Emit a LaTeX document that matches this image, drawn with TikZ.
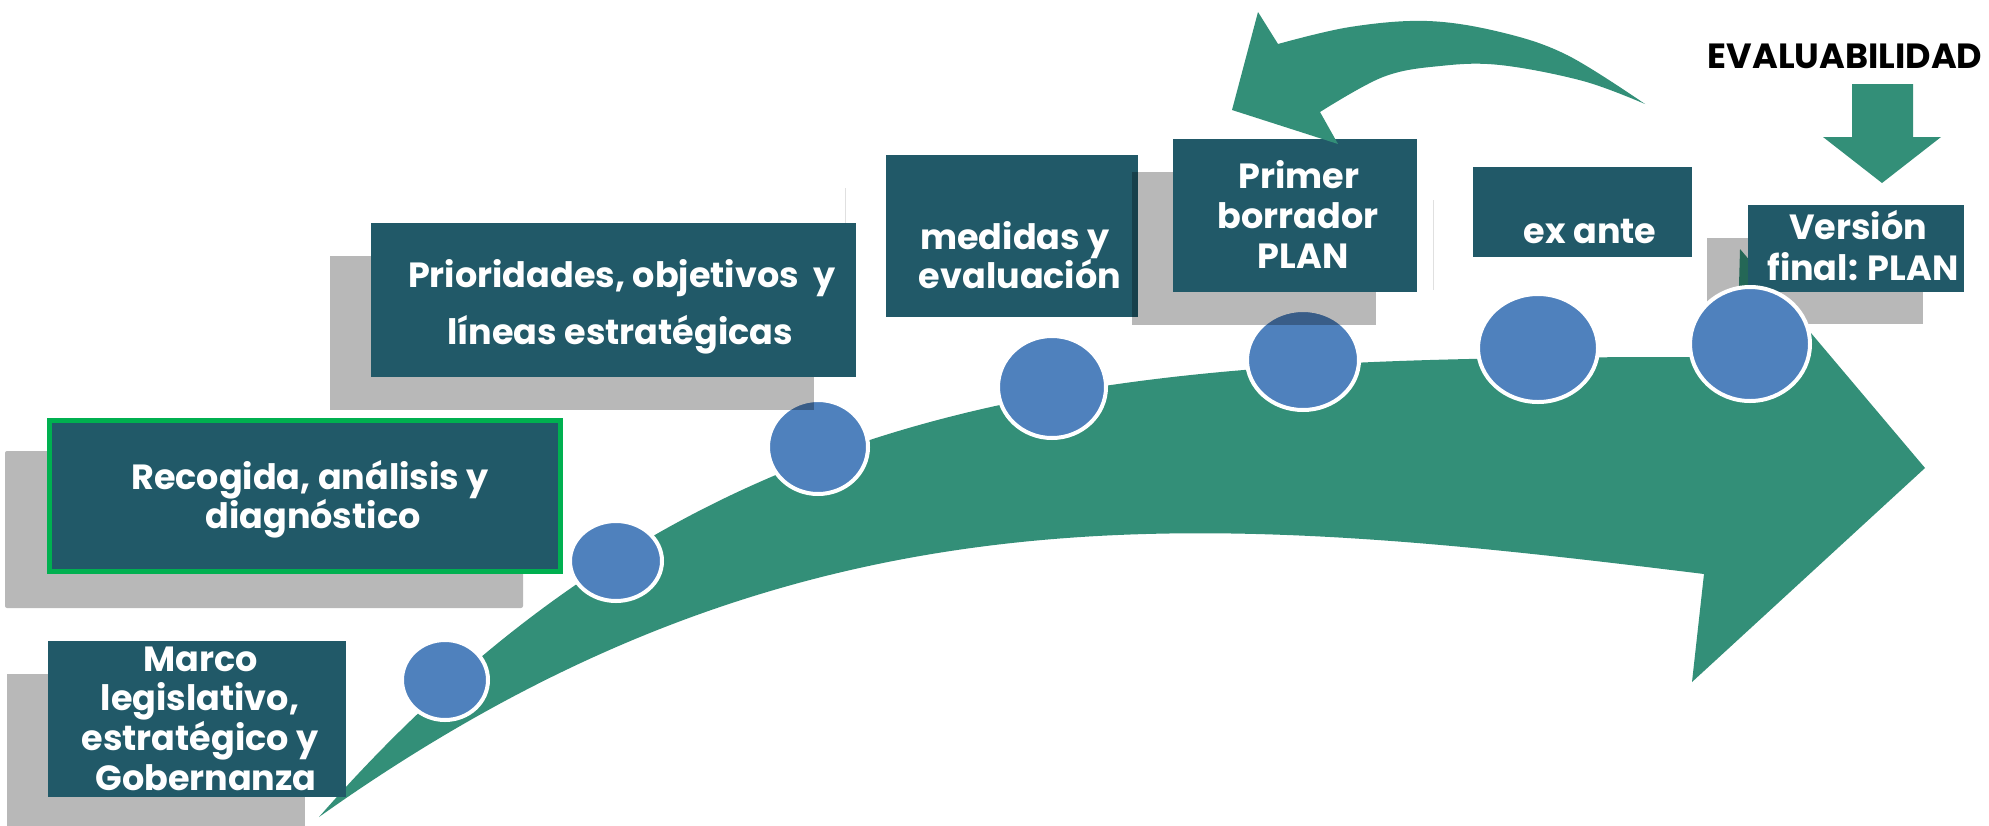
\documentclass[tikz,border=0pt]{standalone}
\usepackage{fontspec}
\setmainfont{Poppins}
\usetikzlibrary{shapes.geometric}
\definecolor{boxfill}{RGB}{33,89,104}
\definecolor{agreen}{RGB}{51,143,120}
\definecolor{cblue}{RGB}{79,129,189}
\definecolor{brdgreen}{RGB}{0,176,80}
\tikzset{
  box/.style={fill=boxfill, draw=none, inner sep=0, anchor=north west, rectangle},
  shadowbox/.style={fill=black, fill opacity=0.28, draw=none},
  circ/.style={ellipse, fill=cblue, draw=white, line width=4pt, inner sep=0},
  txt/.style={text=white, inner sep=0, anchor=base, font=\fontsize{35}{40}\selectfont\bfseries},
  faint/.style={draw=black!12, line width=1pt},
}
\begin{document}
\begin{tikzpicture}[x=1pt,y=-1pt]
\path[use as bounding box, fill=white] (0,0) rectangle (1989,825);

% big arrow
\coordinate (tail) at (319,817);
\coordinate (hu) at (1737,357);
\coordinate (hl) at (1704,574);
\fill[agreen] (tail) .. controls (719,361) and (1137,357) .. (hu)
  -- (1740,249) -- (1925,468) -- (1692,682) -- (hl)
  .. controls (1200,512) and (800,475) .. (tail) -- cycle;

% circles
\node[circ, minimum width=86, minimum height=80] (c1) at (445,680) {};
\node[circ, minimum width=92, minimum height=80] (c2) at (616,561) {};
\node[circ, minimum width=100, minimum height=94] (c3) at (818,447) {};
\node[circ, minimum width=108, minimum height=102] (c4) at (1052,387) {};
\node[circ, minimum width=112, minimum height=100] (c5) at (1303,360) {};
\node[circ, minimum width=120, minimum height=108] (c6) at (1538,348) {};

% Marco
\fill[shadowbox] (7,674) rectangle (305,830);
\node[box, minimum width=298, minimum height=156] (marco) at (48,641) {};
% Recogida
\fill[shadowbox, rounded corners=2] (5,451) rectangle (523,608);
\node[box, draw=brdgreen, line width=5pt, minimum width=511, minimum height=151, anchor=center] (recog) at (305,496) {};
% Prioridades
\fill[shadowbox] (330,256) rectangle (814,410);
\node[box, minimum width=485, minimum height=154] (prior) at (371,223) {};
% medidas
\draw[faint] (845,188) -- (845,223);
\node[box, minimum width=252, minimum height=162] (medid) at (886,155) {};
% Primer
\fill[shadowbox] (1132,172) rectangle (1376,325);
\node[box, minimum width=244, minimum height=153] (primer) at (1173,139) {};
% ex ante
\draw[faint] (1433,200) -- (1433,290);
\node[box, minimum width=219, minimum height=90] (exante) at (1473,167) {};
% Version
\fill[shadowbox] (1707,238) rectangle (1923,324);
\node[box, minimum width=216, minimum height=87] (version) at (1748,205) {};
\node[circ, minimum width=120, minimum height=114] (c7) at (1750,344) {};

% back arrow
\fill[agreen] (1645,104) -- plot[smooth, tension=0.6] coordinates {(1645,104) (1567,55) (1500,32) (1427,21) (1350,27) (1278,44)}
  -- (1258,12) -- (1232,110) -- (1338,144) -- (1320,112)
  -- plot[smooth, tension=0.6] coordinates {(1320,112) (1383,77) (1440,66) (1500,65) (1583,81) (1645,104)} -- cycle;

% down arrow
\fill[agreen] (1852,84) -- (1913,84) -- (1913,137) -- (1941,137) -- (1882,183) -- (1823,137) -- (1852,137) -- cycle;
\node[inner sep=0, anchor=base, font=\fontsize{35}{40}\selectfont\bfseries] (evalu) at (1845,68) {EVALUABILIDAD};

% texts
\node[txt] (t1a) at (201,671) {Marco};
\node[txt] (t1b) at (200,710) {legislativo,};
\node[txt] (t1c) at (200,750) {estratégico y};
\node[txt] (t1d) at (206,790) {Gobernanza};
\node[txt] (t2a) at (310,489) {Recogida, análisis y};
\node[txt] (t2b) at (313,528) {diagnóstico};
\node[txt] (t3a) at (622,287) {Prioridades, objetivos\ \ y};
\node[txt] (t3b) at (620,344) {líneas estratégicas};
\node[txt] (t4a) at (1015,249) {medidas y};
\node[txt] (t4b) at (1020,288) {evaluación};
\node[txt] (t5a) at (1299,188) {Primer};
\node[txt] (t5b) at (1298,228) {borrador};
\node[txt] (t5c) at (1303,268) {PLAN};
\node[txt] (t6) at (1590,243) {ex ante};
\node[txt] (t7a) at (1858,239) {Versión};
\node[txt] (t7b) at (1863,280) {final: PLAN};
\end{tikzpicture}
\end{document}
